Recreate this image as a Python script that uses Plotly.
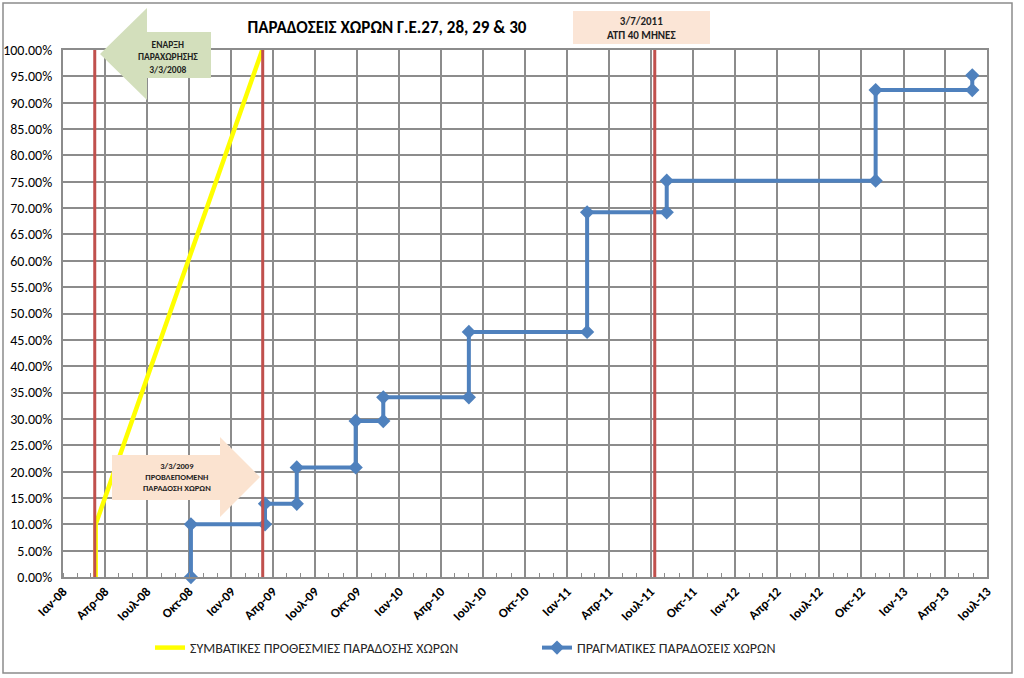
import plotly.graph_objects as go

# ---------------- data ----------------
contract_dates = ["2008-03-12", "2008-03-12", "2009-03-09"]
contract_values = [0.0, 0.10, 1.0]

actual_dates = ["2008-10-05", "2008-10-05", "2009-03-15", "2009-03-15", "2009-05-23",
                "2009-05-23", "2009-09-28", "2009-09-28", "2009-11-27", "2009-11-27",
                "2010-06-01", "2010-06-01", "2011-02-13", "2011-02-13", "2011-08-05",
                "2011-08-05", "2012-11-01", "2012-11-01", "2013-05-30", "2013-05-30"]
actual_values = [0.0, 0.10, 0.10, 0.139, 0.139,
                 0.208, 0.208, 0.296, 0.296, 0.341,
                 0.341, 0.465, 0.465, 0.692, 0.692,
                 0.752, 0.752, 0.924, 0.924, 0.952]

milestone_dates = ["2008-03-10", "2009-03-10", "2011-07-10"]

tick_dates = ["2008-01-01", "2008-04-01", "2008-07-01", "2008-10-01",
              "2009-01-01", "2009-04-01", "2009-07-01", "2009-10-01",
              "2010-01-01", "2010-04-01", "2010-07-01", "2010-10-01",
              "2011-01-01", "2011-04-01", "2011-07-01", "2011-10-01",
              "2012-01-01", "2012-04-01", "2012-07-01", "2012-10-01",
              "2013-01-01", "2013-04-01", "2013-07-01"]
tick_labels = ["Ιαν-08", "Απρ-08", "Ιουλ-08", "Οκτ-08",
               "Ιαν-09", "Απρ-09", "Ιουλ-09", "Οκτ-09",
               "Ιαν-10", "Απρ-10", "Ιουλ-10", "Οκτ-10",
               "Ιαν-11", "Απρ-11", "Ιουλ-11", "Οκτ-11",
               "Ιαν-12", "Απρ-12", "Ιουλ-12", "Οκτ-12",
               "Ιαν-13", "Απρ-13", "Ιουλ-13"]

title_text = "ΠΑΡΑΔΟΣΕΙΣ ΧΩΡΩΝ Γ.Ε.27, 28, 29 & 30"
name_contract = "ΣΥΜΒΑΤΙΚΕΣ ΠΡΟΘΕΣΜΙΕΣ ΠΑΡΑΔΟΣΗΣ ΧΩΡΩΝ"
name_actual = "ΠΡΑΓΜΑΤΙΚΕΣ ΠΑΡΑΔΟΣΕΙΣ ΧΩΡΩΝ"

FONT = "Carlito, 'Liberation Sans Narrow', 'Open Sans', sans-serif"
W, H = 1024, 678
L, R, T, B = 63, 37, 50, 101
PW, PH = W - L - R, H - T - B


def px(x):
    return (x - L) / PW


def py(y):
    return (H - B - y) / PH


fig = go.Figure()

fig.add_trace(go.Scatter(
    x=contract_dates, y=contract_values, mode="lines", name=name_contract,
    line=dict(color="#FFFF00", width=4.5), cliponaxis=False))

fig.add_trace(go.Scatter(
    x=actual_dates, y=actual_values, mode="lines+markers", name=name_actual,
    line=dict(color="#4F81BD", width=4),
    marker=dict(symbol="diamond", size=11, color="#4F81BD"), cliponaxis=False))

shapes = []
for d in milestone_dates:
    shapes.append(dict(type="line", xref="x", yref="paper", x0=d, x1=d, y0=0, y1=1,
                       line=dict(color="#C0504D", width=3), layer="above"))

# outer chart border
shapes.append(dict(type="rect", xref="paper", yref="paper",
                   x0=px(3), x1=px(1012), y0=py(673), y1=py(3),
                   line=dict(color="#8C8C8C", width=1.5), layer="below"))

# green left arrow
ga = [(100, 54), (147, 8), (147, 32), (211, 32), (211, 78), (147, 78), (147, 100)]
path = "M " + " L ".join(f"{px(a)},{py(b)}" for a, b in ga) + " Z"
shapes.append(dict(type="path", xref="paper", yref="paper", path=path,
                   fillcolor="#D3DFBC", line=dict(width=0), layer="above"))

# peach right arrow
pa = [(112, 455), (220, 455), (220, 437), (260, 477), (220, 517), (220, 500), (112, 500)]
path = "M " + " L ".join(f"{px(a)},{py(b)}" for a, b in pa) + " Z"
shapes.append(dict(type="path", xref="paper", yref="paper", path=path,
                   fillcolor="#FBE3D0", line=dict(width=0), layer="above"))

# peach box
shapes.append(dict(type="rect", xref="paper", yref="paper",
                   x0=px(573), x1=px(710), y0=py(44), y1=py(11),
                   fillcolor="#FBE5D6", line=dict(width=0), layer="above"))

annotations = [
    dict(x=px(168), y=py(57), xref="paper", yref="paper", showarrow=False,
         xanchor="center", yanchor="middle",
         text="<b>ΕΝΑΡΞΗ<br>ΠΑΡΑΧΩΡΗΣΗΣ<br>3/3/2008</b>",
         font=dict(family=FONT, size=9.5, color="#1F1F1F"), align="center"),
    dict(x=px(177), y=py(477), xref="paper", yref="paper", showarrow=False,
         xanchor="center", yanchor="middle",
         text="<b>3/3/2009<br>ΠΡΟΒΛΕΠΟΜΕΝΗ<br>ΠΑΡΑΔΟΣΗ ΧΩΡΩΝ</b>",
         font=dict(family=FONT, size=8.5, color="#1F1F1F"), align="center"),
    dict(x=px(641), y=py(28), xref="paper", yref="paper", showarrow=False,
         xanchor="center", yanchor="middle",
         text="<b>3/7/2011<br>ΑΤΠ 40 ΜΗΝΕΣ</b>",
         font=dict(family=FONT, size=11, color="#1F1F1F"), align="center"),
]

fig.update_layout(
    width=W, height=H,
    margin=dict(l=L, r=R, t=T, b=B, autoexpand=False),
    paper_bgcolor="white", plot_bgcolor="white",
    font=dict(family=FONT, size=14, color="#000000"),
    title=dict(text=f"<b>{title_text}</b>", x=387 / W, xanchor="center",
               y=1 - 27 / H, yanchor="middle",
               font=dict(family=FONT, size=17, color="#000000")),
    shapes=shapes, annotations=annotations,
    legend=dict(orientation="h", x=px(150), y=py(648), xanchor="left", yanchor="middle",
                entrywidth=342, entrywidthmode="pixels",
                font=dict(family=FONT, size=14, color="#262626"), bgcolor="rgba(0,0,0,0)"),
    showlegend=True,
)

fig.update_xaxes(
    type="date", range=["2008-01-01", "2013-07-01"], automargin=False,
    tickmode="array", tickvals=tick_dates, ticktext=tick_labels, tickangle=-45,
    showgrid=True, gridcolor="#8C8C8C", gridwidth=2,
    showline=True, linecolor="#8C8C8C", linewidth=2, mirror=True,
    ticks="", tickfont=dict(family=FONT, size=13, color="#000000", weight="bold"),
    minor=dict(tickmode="linear", tick0="2008-01-01", dtick="M1", ticks="inside",
               ticklen=4, tickcolor="#8C8C8C", tickwidth=1, showgrid=False),
    zeroline=False,
)
fig.update_yaxes(
    range=[0, 1], dtick=0.05, tick0=0, tickformat=".2%", automargin=False,
    showgrid=True, gridcolor="#8C8C8C", gridwidth=2,
    showline=True, linecolor="#8C8C8C", linewidth=2, mirror=True,
    ticks="", tickfont=dict(family=FONT, size=14, color="#000000"),
    ticklabelstandoff=6,
    zeroline=False,
)

fig.write_html("out.html")
